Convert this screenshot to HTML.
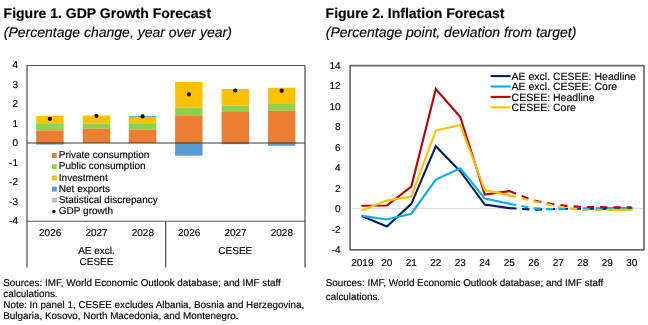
<!DOCTYPE html>
<html><head><meta charset="utf-8"><style>
html,body{margin:0;padding:0;background:#fff;width:648px;height:325px;overflow:hidden}
svg{display:block;font-family:"Liberation Sans", sans-serif;will-change:transform;text-rendering:geometricPrecision}
svg text{stroke:#000;stroke-width:0.15px}
</style></head><body>
<svg width="648" height="325" viewBox="0 0 648 325">
<text x="3.6" y="18.00" font-size="14" font-weight="bold" fill="#000">Figure 1. GDP Growth Forecast</text>
<text x="3.8" y="37.40" font-size="14" font-style="italic" fill="#000">(Percentage change, year over year)</text>
<text x="325.6" y="18.00" font-size="14" font-weight="bold" fill="#000">Figure 2. Inflation Forecast</text>
<text x="325.8" y="37.40" font-size="14" font-style="italic" fill="#000">(Percentage point, deviation from target)</text>
<rect x="36.20" y="116.00" width="27.4" height="8.00" fill="#FFC000"/>
<rect x="36.20" y="124.00" width="27.4" height="6.40" fill="#92D050"/>
<rect x="36.20" y="130.40" width="27.4" height="12.60" fill="#ED7D31"/>
<rect x="36.20" y="143.00" width="27.4" height="1.60" fill="#5B9BD5"/>
<rect x="82.75" y="115.40" width="27.4" height="0.70" fill="#BFBFBF"/>
<rect x="82.75" y="116.10" width="27.4" height="7.40" fill="#FFC000"/>
<rect x="82.75" y="123.50" width="27.4" height="5.20" fill="#92D050"/>
<rect x="82.75" y="128.70" width="27.4" height="14.30" fill="#ED7D31"/>
<rect x="128.85" y="116.00" width="27.4" height="0.90" fill="#5B9BD5"/>
<rect x="128.85" y="116.90" width="27.4" height="7.10" fill="#FFC000"/>
<rect x="128.85" y="124.00" width="27.4" height="5.50" fill="#92D050"/>
<rect x="128.85" y="129.50" width="27.4" height="13.50" fill="#ED7D31"/>
<rect x="175.15" y="82.00" width="27.4" height="25.60" fill="#FFC000"/>
<rect x="175.15" y="107.60" width="27.4" height="8.30" fill="#92D050"/>
<rect x="175.15" y="115.90" width="27.4" height="27.10" fill="#ED7D31"/>
<rect x="175.15" y="143.00" width="27.4" height="12.70" fill="#5B9BD5"/>
<rect x="221.60" y="89.00" width="27.4" height="16.60" fill="#FFC000"/>
<rect x="221.60" y="105.60" width="27.4" height="6.40" fill="#92D050"/>
<rect x="221.60" y="112.00" width="27.4" height="31.00" fill="#ED7D31"/>
<rect x="221.60" y="143.00" width="27.4" height="1.20" fill="#5B9BD5"/>
<rect x="268.00" y="87.80" width="27.4" height="16.20" fill="#FFC000"/>
<rect x="268.00" y="104.00" width="27.4" height="6.80" fill="#92D050"/>
<rect x="268.00" y="110.80" width="27.4" height="32.20" fill="#ED7D31"/>
<rect x="268.00" y="143.00" width="27.4" height="2.80" fill="#5B9BD5"/>
<path d="M27.0 65.5H305.0" stroke="#505050" stroke-width="1.2" fill="none"/>
<path d="M27.0 143.0H305.0" stroke="#383838" stroke-width="1.2" fill="none"/>
<path d="M27.0 221.2H305.0" stroke="#595959" stroke-width="1.1" fill="none"/>
<path d="M27.0 65.5V267.5M305.0 65.5V267.5M165.7 221.2V267.5" stroke="#505050" stroke-width="1.25" fill="none"/>
<circle cx="49.90" cy="118.8" r="2.1" fill="#000"/>
<circle cx="96.45" cy="115.8" r="2.1" fill="#000"/>
<circle cx="142.55" cy="116.4" r="2.1" fill="#000"/>
<circle cx="188.85" cy="94.3" r="2.1" fill="#000"/>
<circle cx="235.30" cy="90.5" r="2.1" fill="#000"/>
<circle cx="281.70" cy="90.7" r="2.1" fill="#000"/>
<text x="18" y="68.40" font-size="10" text-anchor="end" fill="#000">4</text>
<text x="18" y="87.86" font-size="10" text-anchor="end" fill="#000">3</text>
<text x="18" y="107.32" font-size="10" text-anchor="end" fill="#000">2</text>
<text x="18" y="126.79" font-size="10" text-anchor="end" fill="#000">1</text>
<text x="18" y="146.25" font-size="10" text-anchor="end" fill="#000">0</text>
<text x="18" y="165.71" font-size="10" text-anchor="end" fill="#000">-1</text>
<text x="18" y="185.17" font-size="10" text-anchor="end" fill="#000">-2</text>
<text x="18" y="204.64" font-size="10" text-anchor="end" fill="#000">-3</text>
<text x="18" y="224.10" font-size="10" text-anchor="end" fill="#000">-4</text>
<text x="50.17" y="235.80" font-size="10" text-anchor="middle" fill="#000">2026</text>
<text x="96.50" y="235.80" font-size="10" text-anchor="middle" fill="#000">2027</text>
<text x="142.83" y="235.80" font-size="10" text-anchor="middle" fill="#000">2028</text>
<text x="189.17" y="235.80" font-size="10" text-anchor="middle" fill="#000">2026</text>
<text x="235.50" y="235.80" font-size="10" text-anchor="middle" fill="#000">2027</text>
<text x="281.83" y="235.80" font-size="10" text-anchor="middle" fill="#000">2028</text>
<text x="96.5" y="254.10" font-size="10" text-anchor="middle" fill="#000">AE excl.</text>
<text x="96.5" y="265.10" font-size="10" text-anchor="middle" fill="#000">CESEE</text>
<text x="235.3" y="253.80" font-size="10" text-anchor="middle" fill="#000">CESEE</text>
<rect x="51.9" y="153.00" width="4.9" height="4.9" fill="#ED7D31"/>
<text x="58.8" y="158.10" font-size="10" fill="#000">Private consumption</text>
<rect x="51.9" y="164.20" width="4.9" height="4.9" fill="#92D050"/>
<text x="58.8" y="169.30" font-size="10" fill="#000">Public consumption</text>
<rect x="51.9" y="175.40" width="4.9" height="4.9" fill="#FFC000"/>
<text x="58.8" y="180.50" font-size="10" fill="#000">Investment</text>
<rect x="51.9" y="186.60" width="4.9" height="4.9" fill="#5B9BD5"/>
<text x="58.8" y="191.70" font-size="10" fill="#000">Net exports</text>
<rect x="51.9" y="197.80" width="4.9" height="4.9" fill="#BFBFBF"/>
<text x="58.8" y="202.90" font-size="10" fill="#000">Statistical discrepancy</text>
<circle cx="53.9" cy="211.40" r="1.7" fill="#000"/>
<text x="58.8" y="214.10" font-size="10" fill="#000">GDP growth</text>
<text x="3.3" y="286.20" font-size="9.87" fill="#000">Sources: IMF, World Economic Outlook database; and IMF staff</text>
<text x="3.3" y="297.25" font-size="9.87" fill="#000">calculations.</text>
<text x="3.3" y="308.30" font-size="9.87" fill="#000">Note: In panel 1, CESEE excludes Albania, Bosnia and Herzegovina,</text>
<text x="3.3" y="319.35" font-size="9.87" fill="#000">Bulgaria, Kosovo, North Macedonia, and Montenegro.</text>
<path d="M352 208.64H644.0" stroke="#D9D9D9" stroke-width="1" fill="none"/>
<path d="M607 208.1H632.7" stroke="#00B0F0" stroke-width="2.1"/>
<polyline points="362.35,216.30 386.84,226.40 411.33,203.80 435.82,146.20 460.31,171.50 484.80,204.60 509.30,208.10" stroke="#002060" stroke-width="2.1" fill="none" stroke-linejoin="miter" stroke-linecap="round"/>
<polyline points="509.30,208.10 533.79,209.70 558.28,208.80 582.77,208.60 607.26,208.70 631.75,208.90" stroke="#002060" stroke-width="2.1" fill="none" stroke-dasharray="7.2 5.7"/>
<polyline points="362.35,215.90 386.84,219.50 411.33,213.70 435.82,179.60 460.31,168.20 484.80,198.60 509.30,203.80" stroke="#00B0F0" stroke-width="2.1" fill="none" stroke-linejoin="miter" stroke-linecap="round"/>
<polyline points="509.30,203.80 533.79,208.40 558.28,209.30 582.77,208.40 607.26,208.10 631.75,208.10" stroke="#00B0F0" stroke-width="2.1" fill="none" stroke-dasharray="7 5.4"/>
<polyline points="362.35,205.70 386.84,205.50 411.33,186.60 435.82,89.00 460.31,117.00 484.80,194.50 509.30,191.10" stroke="#C00000" stroke-width="2.1" fill="none" stroke-linejoin="miter" stroke-linecap="round"/>
<polyline points="509.30,191.10 533.79,200.50 558.28,205.20 582.77,206.90 607.26,207.20 631.75,207.20" stroke="#C00000" stroke-width="2.1" fill="none" stroke-dasharray="7.3 6"/>
<polyline points="362.35,210.20 386.84,200.60 411.33,196.50 435.82,130.60 460.31,125.00 484.80,190.00 509.30,195.40" stroke="#FFC000" stroke-width="2.1" fill="none" stroke-linejoin="miter" stroke-linecap="round"/>
<polyline points="509.30,195.40 533.79,201.40 558.28,206.60 582.77,210.00 607.26,210.00 631.75,210.00" stroke="#FFC000" stroke-width="2.1" fill="none" stroke-dasharray="7 5.4"/>
<path d="M607 209.8H632.7" stroke="#FFC000" stroke-width="2.1"/>
<rect x="350.1" y="65.6" width="293.90" height="184.30" stroke="#6B6B6B" stroke-width="1.7" stroke-linejoin="round" fill="none"/>
<text x="340.6" y="68.80" font-size="10" text-anchor="end" fill="#000">14</text>
<text x="340.6" y="89.28" font-size="10" text-anchor="end" fill="#000">12</text>
<text x="340.6" y="109.76" font-size="10" text-anchor="end" fill="#000">10</text>
<text x="340.6" y="130.23" font-size="10" text-anchor="end" fill="#000">8</text>
<text x="340.6" y="150.71" font-size="10" text-anchor="end" fill="#000">6</text>
<text x="340.6" y="171.19" font-size="10" text-anchor="end" fill="#000">4</text>
<text x="340.6" y="191.67" font-size="10" text-anchor="end" fill="#000">2</text>
<text x="340.6" y="212.14" font-size="10" text-anchor="end" fill="#000">0</text>
<text x="340.6" y="232.62" font-size="10" text-anchor="end" fill="#000">-2</text>
<text x="340.6" y="253.10" font-size="10" text-anchor="end" fill="#000">-4</text>
<text x="362.35" y="265.50" font-size="10" text-anchor="middle" fill="#000">2019</text>
<text x="386.84" y="265.50" font-size="10" text-anchor="middle" fill="#000">20</text>
<text x="411.33" y="265.50" font-size="10" text-anchor="middle" fill="#000">21</text>
<text x="435.82" y="265.50" font-size="10" text-anchor="middle" fill="#000">22</text>
<text x="460.31" y="265.50" font-size="10" text-anchor="middle" fill="#000">23</text>
<text x="484.80" y="265.50" font-size="10" text-anchor="middle" fill="#000">24</text>
<text x="509.30" y="265.50" font-size="10" text-anchor="middle" fill="#000">25</text>
<text x="533.79" y="265.50" font-size="10" text-anchor="middle" fill="#000">26</text>
<text x="558.28" y="265.50" font-size="10" text-anchor="middle" fill="#000">27</text>
<text x="582.77" y="265.50" font-size="10" text-anchor="middle" fill="#000">28</text>
<text x="607.26" y="265.50" font-size="10" text-anchor="middle" fill="#000">29</text>
<text x="631.75" y="265.50" font-size="10" text-anchor="middle" fill="#000">30</text>
<path d="M490.7 76.10H510.6" stroke="#002060" stroke-width="2.1"/>
<text x="511.6" y="79.70" font-size="10.5" fill="#000">AE excl. CESEE: Headline</text>
<path d="M490.7 86.50H510.6" stroke="#00B0F0" stroke-width="2.1"/>
<text x="511.6" y="90.10" font-size="10.5" fill="#000">AE excl. CESEE: Core</text>
<path d="M490.7 96.90H510.6" stroke="#C00000" stroke-width="2.1"/>
<text x="511.6" y="100.50" font-size="10.5" fill="#000">CESEE: Headline</text>
<path d="M490.7 107.30H510.6" stroke="#FFC000" stroke-width="2.1"/>
<text x="511.6" y="110.90" font-size="10.5" fill="#000">CESEE: Core</text>
<text x="325.8" y="286.30" font-size="9.87" fill="#000">Sources: IMF, World Economic Outlook database; and IMF staff</text>
<text x="325.8" y="300.40" font-size="9.87" fill="#000">calculations.</text>
</svg>
</body></html>
